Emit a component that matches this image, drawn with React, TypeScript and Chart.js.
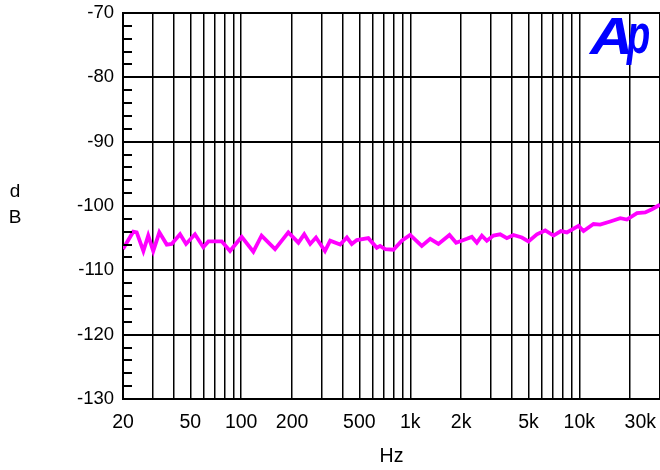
import React, { useEffect, useRef } from 'react';
import { Chart, registerables } from 'chart.js';
Chart.register(...registerables);

const FONT = '"Liberation Sans", Arial, Helvetica, sans-serif';

// Measured trace (frequency in Hz, level in dB)
const freqs = [
  20, 23, 24.1, 26.4, 28.2, 30.2, 32.8, 36.3, 38.8, 43.5, 47.2, 53.3, 59.7, 64, 76.7, 85.9,
  100.7, 118, 132, 158.6, 190, 218, 236, 256, 277, 313, 336, 385, 422, 451, 483, 565, 634,
  663, 710, 795, 891, 998, 1170, 1312, 1468, 1706, 1868, 2164, 2313, 2477, 2652, 2838, 3106,
  3403, 3726, 4077, 4573, 5003, 5612, 6284, 7035, 7784, 8441, 9891, 10590, 12130, 13280,
  15240, 17460, 19110, 21930, 24540, 26880, 30000,
];
const levels = [
  -106.7, -104.0, -104.1, -107.0, -104.6, -107.0, -104.1, -106.0, -105.9, -104.4, -105.9,
  -104.4, -106.4, -105.5, -105.5, -107.0, -104.8, -107.1, -104.6, -106.7, -104.1, -105.7,
  -104.4, -105.9, -104.9, -107.0, -105.4, -106.0, -104.9, -105.9, -105.3, -105.0, -106.5,
  -106.2, -106.7, -106.8, -105.4, -104.5, -106.2, -105.1, -105.9, -104.5, -105.7, -105.1,
  -104.8, -105.7, -104.6, -105.4, -104.6, -104.4, -105.0, -104.5, -104.9, -105.5, -104.4,
  -103.8, -104.6, -103.9, -104.1, -103.1, -103.9, -102.8, -102.9, -102.4, -101.9, -102.1,
  -101.1, -101.0, -100.5, -99.8,
];

// Axis ticks
const gridFreqs = [
  20, 30, 40, 50, 60, 70, 80, 90, 100, 200, 300, 400, 500, 600, 700, 800, 900, 1000, 2000,
  3000, 4000, 5000, 6000, 7000, 8000, 9000, 10000, 20000, 30000,
];
const xLabelValues = [20, 50, 100, 200, 500, 1000, 2000, 5000, 10000, 30000];
const xLabels = ['20', '50', '100', '200', '500', '1k', '2k', '5k', '10k', '30k'];
const yTicks = [-130, -120, -110, -100, -90, -80, -70];
const yMinorTicks = [
  -128, -126, -124, -122, -118, -116, -114, -112, -108, -106, -104, -102, -98, -96, -94, -92,
  -88, -86, -84, -82, -78, -76, -74, -72,
];

const overlay = {
  id: 'overlay',
  afterDraw(chart: any) {
    const ctx = chart.ctx as CanvasRenderingContext2D;
    const xs = chart.scales.x;
    const ys = chart.scales.y;
    const area = chart.chartArea;
    ctx.save();
    // minor y ticks, inside the plot
    ctx.strokeStyle = '#000';
    ctx.lineWidth = 2;
    yMinorTicks.forEach((v) => {
      const y = Math.round(ys.getPixelForValue(v));
      ctx.beginPath();
      ctx.moveTo(area.left, y);
      ctx.lineTo(area.left + 9, y);
      ctx.stroke();
    });
    // x labels
    ctx.fillStyle = '#000';
    ctx.font = `19.5px ${FONT}`;
    ctx.textAlign = 'center';
    ctx.textBaseline = 'middle';
    xLabelValues.forEach((v, i) => {
      let x = xs.getPixelForValue(v);
      const w = ctx.measureText(xLabels[i]).width;
      x = Math.min(x, chart.width - w / 2 - 4);
      ctx.fillText(xLabels[i], x, 423);
    });
    // axis titles
    ctx.fillText('Hz', (area.left + area.right) / 2, 457);
    ctx.font = `19px ${FONT}`;
    ctx.fillText('d', 15, 192);
    ctx.fillText('B', 15, 218);
    // logo
    ctx.fillStyle = '#0000ff';
    ctx.textAlign = 'left';
    ctx.textBaseline = 'alphabetic';
    ctx.save();
    ctx.translate(590, 54);
    ctx.scale(1.15, 1);
    ctx.font = `italic bold 52px ${FONT}`;
    ctx.fillText('A', 0, 0);
    ctx.restore();
    ctx.save();
    ctx.translate(627, 53);
    ctx.scale(0.68, 1.0);
    ctx.font = `italic bold 56px ${FONT}`;
    ctx.fillText('p', 0, 0);
    ctx.restore();
    ctx.restore();
  },
};

export default function App() {
  const ref = useRef<HTMLCanvasElement>(null);
  useEffect(() => {
    document.body.style.margin = '0';
    const chart = new Chart(ref.current!, {
      type: 'line',
      data: {
        datasets: [
          {
            data: freqs.map((f, i) => ({ x: f, y: levels[i] })),
            borderColor: '#ff00ff',
            backgroundColor: '#ff00ff',
            borderWidth: 3.8,
            pointRadius: 0,
            tension: 0,
            fill: false,
          },
        ],
      },
      options: {
        responsive: false,
        animation: false,
        devicePixelRatio: 1,
        layout: { padding: { top: 13, left: 0, right: 0, bottom: 0 } },
        plugins: { legend: { display: false }, tooltip: { enabled: false } },
        scales: {
          x: {
            type: 'logarithmic',
            min: 20,
            max: 30000,
            afterBuildTicks: (s: any) => {
              s.ticks = gridFreqs.map((v) => ({ value: v }));
            },
            afterFit: (s: any) => {
              s.height = 71;
              s.paddingLeft = 0;
              s.paddingRight = 0;
            },
            ticks: { display: false },
            grid: { color: '#000', lineWidth: 1.5, drawTicks: false },
            border: { color: '#000', width: 2 },
          },
          y: {
            min: -130,
            max: -70,
            afterBuildTicks: (s: any) => {
              s.ticks = yTicks.map((v) => ({ value: v }));
            },
            afterFit: (s: any) => {
              s.width = 123;
              s.paddingTop = 0;
              s.paddingBottom = 0;
            },
            ticks: {
              color: '#000',
              font: { family: FONT, size: 18.5 },
              padding: 9,
              callback: (v: any) => String(v),
            },
            grid: { color: '#000', lineWidth: 2, drawTicks: false },
            border: { color: '#000', width: 2 },
          },
        },
      } as any,
      plugins: [overlay],
    });
    return () => chart.destroy();
  }, []);
  return (
    <div style={{ width: 660, height: 470 }}>
      <canvas ref={ref} width={660} height={470} style={{ display: 'block' }} />
    </div>
  );
}
